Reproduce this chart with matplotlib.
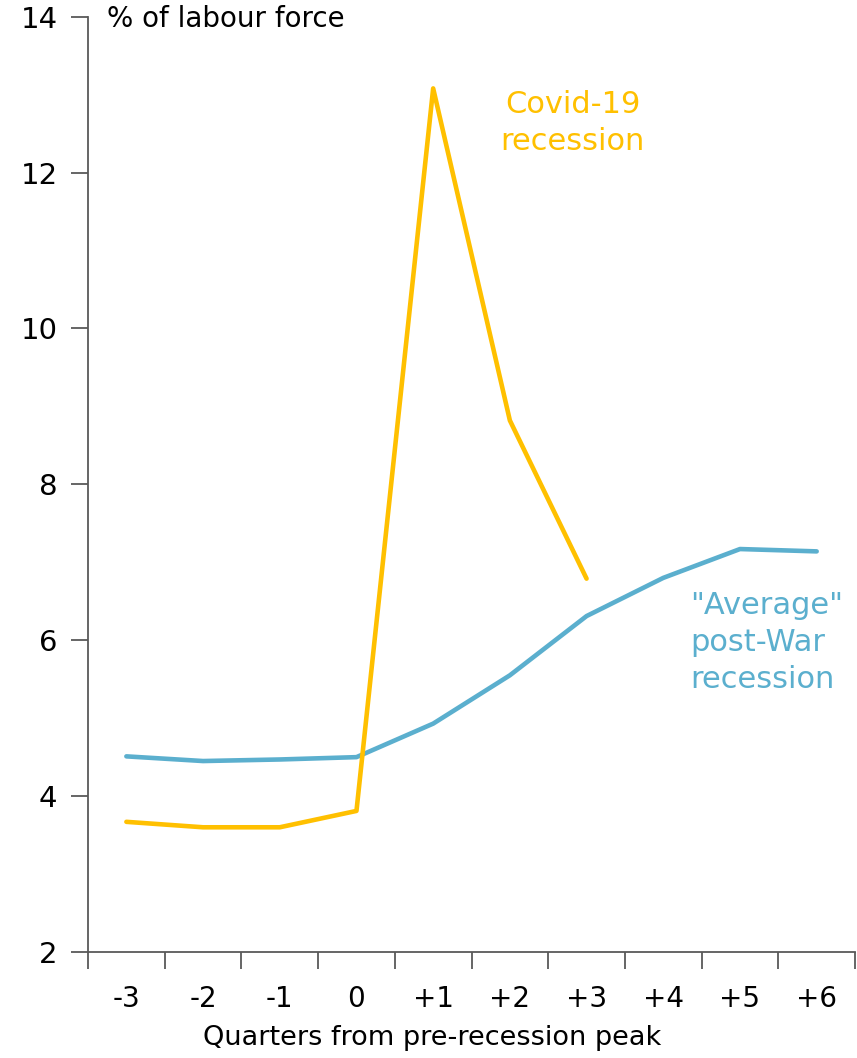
import matplotlib.pyplot as plt

quarters = ["-3", "-2", "-1", "0", "+1", "+2", "+3", "+4", "+5", "+6"]
covid = [3.67, 3.60, 3.60, 3.81, 13.08, 8.82, 6.79]
average = [4.51, 4.45, 4.47, 4.50, 4.93, 5.55, 6.31, 6.80, 7.17, 7.14]

yellow = "#FFC000"
blue = "#5BAFCE"
grey = "#595959"

plt.rcParams["font.family"] = ["DejaVu Sans"]

fig = plt.figure(figsize=(8.57, 10.58), dpi=100)
ax = fig.add_axes([0.1027, 0.1002, 0.895, 0.884])

x_avg = list(range(len(average)))
x_cov = list(range(len(covid)))
ax.plot(x_avg, average, color=blue, lw=3.3, solid_capstyle="round", solid_joinstyle="round")
ax.plot(x_cov, covid, color=yellow, lw=3.3, solid_capstyle="round", solid_joinstyle="round")

ax.set_xlim(-0.5, len(quarters) - 0.5)
ax.set_ylim(2, 14)
ax.set_yticks([2, 4, 6, 8, 10, 12, 14])
ax.set_xticks([i - 0.5 for i in range(len(quarters) + 1)])
ax.set_xticklabels([])
ax.set_xticks(range(len(quarters)), minor=True)
ax.set_xticklabels(quarters, minor=True)
ax.tick_params(axis="x", which="major", length=12, width=1.3, color=grey, direction="out")
ax.tick_params(axis="x", which="minor", length=0, pad=24, labelsize=20)
ax.tick_params(axis="y", length=12, width=1.3, color=grey, direction="out", labelsize=21, pad=10)

for s in ["top", "right"]:
    ax.spines[s].set_visible(False)
for s in ["left", "bottom"]:
    ax.spines[s].set_color(grey)
    ax.spines[s].set_linewidth(1.3)

ax.set_xlabel("Quarters from pre-recession peak", fontsize=19.5)
ax.xaxis.set_label_coords(0.449, -0.078)
ax.text(0.025, 1.012, "% of labour force", transform=ax.transAxes, fontsize=20, va="top", ha="left")

ax.text(5.82, 12.64, "Covid-19\nrecession", color=yellow, fontsize=22, ha="center", va="center", linespacing=1.35)
ax.text(7.35, 5.97, "\"Average\"\npost-War\nrecession", color=blue, fontsize=22, ha="left", va="center", linespacing=1.35)

fig.savefig("out.png", dpi=100)
